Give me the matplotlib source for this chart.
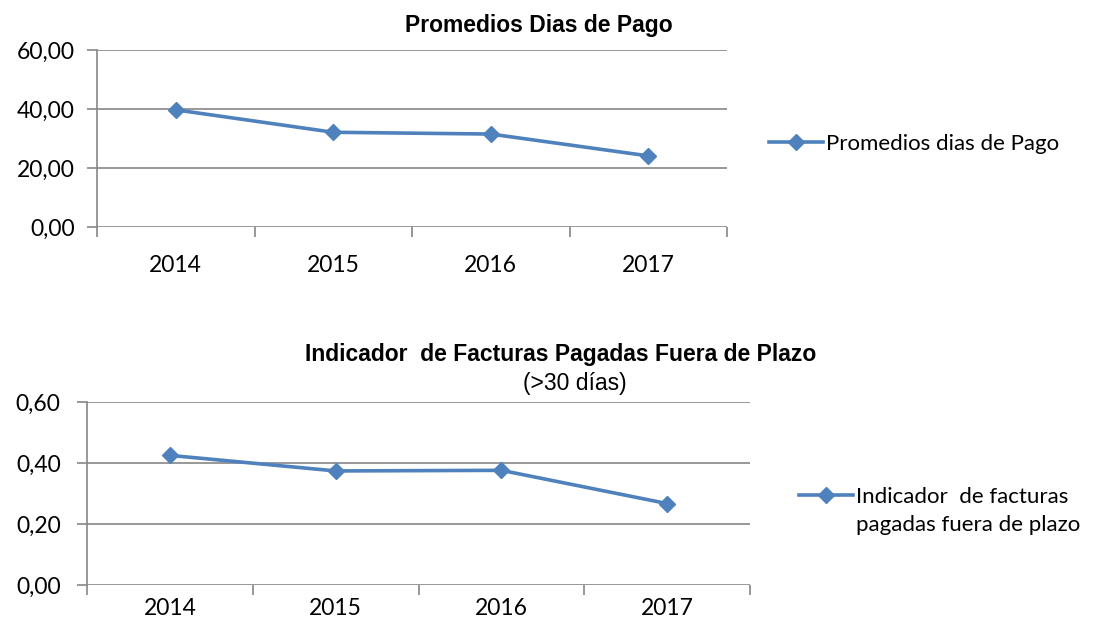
import numpy as np
import matplotlib
matplotlib.use("Agg")
import matplotlib.pyplot as plt
from matplotlib.lines import Line2D

# ---------------------------
# Data
# ---------------------------
years = ["2014", "2015", "2016", "2017"]

dias_pago = [39.7, 32.1, 31.5, 24.1]
dias_ticks = [0, 20, 40, 60]
dias_ticklabels = ["0,00", "20,00", "40,00", "60,00"]

facturas_fuera = [0.425, 0.374, 0.376, 0.267]
fact_ticks = [0, 0.2, 0.4, 0.6]
fact_ticklabels = ["0,00", "0,20", "0,40", "0,60"]

LINE_COLOR = "#4F81BD"
GRID_COLOR = "#868686"
BODY_FONT = "Lato"
TITLE_FONT = "Liberation Sans"

fig = plt.figure(figsize=(11.1, 6.3), dpi=100)


def draw_panel(rect, values, yticks, yticklabels, label, xpad, ypad):
    ax = fig.add_axes(rect)
    x = np.arange(len(years)) + 0.5
    line, = ax.plot(x, values, color=LINE_COLOR, lw=2.6, marker="D",
                    markersize=8.5, label=label, clip_on=False)
    ax.set_xlim(0, len(years))
    ax.set_ylim(yticks[0], yticks[-1])

    # category boundaries as tick marks, labels at the centres
    ax.set_xticks(np.arange(len(years) + 1))
    ax.set_xticklabels([])
    ax.set_xticks(x, minor=True)
    ax.set_xticklabels(years, minor=True, fontsize=16.5, family=BODY_FONT)
    ax.tick_params(axis="x", which="major", length=7, color=GRID_COLOR, width=1.2)
    ax.tick_params(axis="x", which="minor", length=0, pad=xpad)

    ax.set_yticks(yticks)
    ax.set_yticklabels(yticklabels, fontsize=16.5, family=BODY_FONT)
    ax.tick_params(axis="y", length=7, color=GRID_COLOR, width=1.2, pad=ypad)

    ax.grid(axis="y", color=GRID_COLOR, lw=1.2)
    ax.set_axisbelow(True)
    for s in ["top", "right", "bottom"]:
        ax.spines[s].set_visible(False)
    ax.spines["left"].set_color(GRID_COLOR)
    ax.spines["left"].set_linewidth(1.2)
    return ax, line


ax1, l1 = draw_panel([0.0874, 0.6397, 0.5676, 0.2810], dias_pago,
                     dias_ticks, dias_ticklabels, "Promedios dias de Pago", 20, 9)
ax2, l2 = draw_panel([0.0784, 0.0714, 0.5973, 0.2905], facturas_fuera,
                     fact_ticks, fact_ticklabels, "Indicador  de facturas", 9, 12)

fig.text(0.485, 0.96, "Promedios Dias de Pago", ha="center", va="center",
         fontsize=16.5, fontweight="bold", family=TITLE_FONT)
fig.text(0.505, 0.437, "Indicador  de Facturas Pagadas Fuera de Plazo",
         ha="center", va="center", fontsize=16.5, fontweight="bold",
         family=TITLE_FONT)
fig.text(0.518, 0.392, "(>30 días)", ha="center", va="center",
         fontsize=16.5, family=TITLE_FONT)

leg_kw = dict(frameon=False, handlelength=2.4, handletextpad=0.15,
              prop={"family": BODY_FONT, "size": 16}, loc="upper left",
              borderaxespad=0, borderpad=0, labelspacing=0.36)
fig.legend(handles=[l1], bbox_to_anchor=(0.693, 0.787), **leg_kw)
# second line of the lower legend label, without a marker
blank = Line2D([], [], color="none")
fig.legend(handles=[l2, blank],
           labels=["Indicador  de facturas", "pagadas fuera de plazo"],
           bbox_to_anchor=(0.720, 0.227), **leg_kw)

fig.savefig("out.png", dpi=100)
